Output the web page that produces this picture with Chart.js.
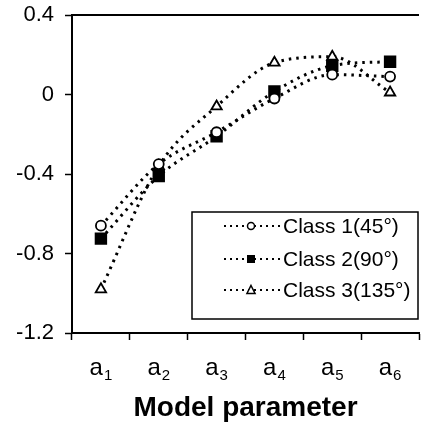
<!DOCTYPE html>
<html>
<head>
<meta charset="utf-8">
<script src="https://cdn.jsdelivr.net/npm/chart.js@4/dist/chart.umd.min.js"></script>
<style>
  html, body { margin: 0; padding: 0; background: #fff; }
  #wrap { width: 421px; height: 429px; }
</style>
</head>
<body>
<div id="wrap"><canvas id="myChart" width="421" height="429"></canvas></div>
<script>
// values
var categories = ['a1', 'a2', 'a3', 'a4', 'a5', 'a6'];
var class1 = [-0.66, -0.35, -0.19, -0.02, 0.10, 0.09];
var class2 = [-0.725, -0.41, -0.21, 0.015, 0.145, 0.165];
var class3 = [-0.98, -0.36, -0.06, 0.16, 0.19, 0.01];
var seriesNames = ['Class 1(45\u00b0)', 'Class 2(90\u00b0)', 'Class 3(135\u00b0)'];
var yTicks = [-1.2, -0.8, -0.4, 0, 0.4];
var xTitle = 'Model parameter';

var FONT = "'Liberation Sans', Arial, sans-serif";

function marker(ctx, style, x, y, r) {
  ctx.save();
  ctx.setLineDash([]);
  ctx.strokeStyle = '#000';
  ctx.lineWidth = 1.5;
  ctx.beginPath();
  if (style === 'circle') {
    ctx.arc(x, y, r, 0, Math.PI * 2);
    ctx.fillStyle = '#fff';
    ctx.fill();
    ctx.stroke();
  } else if (style === 'rect') {
    ctx.fillStyle = '#000';
    ctx.fillRect(x - r, y - r, r * 2, r * 2);
  } else {
    ctx.moveTo(x, y - r);
    ctx.lineTo(x + r * 0.9, y + r * 0.75);
    ctx.lineTo(x - r * 0.9, y + r * 0.75);
    ctx.closePath();
    ctx.fillStyle = '#fff';
    ctx.fill();
    ctx.stroke();
  }
  ctx.restore();
}

// legend box inside the plot + top frame line + subscript tick labels
var extras = {
  id: 'extras',
  afterDraw: function (chart) {
    var ctx = chart.ctx;
    var area = chart.chartArea;
    var xs = chart.scales.x;

    ctx.save();
    // top frame
    ctx.strokeStyle = '#000';
    ctx.lineWidth = 2;
    ctx.beginPath();
    ctx.moveTo(area.left, area.top);
    ctx.lineTo(area.right, area.top);
    ctx.stroke();

    // x labels a + subscript
    ctx.fillStyle = '#000';
    ctx.textBaseline = 'alphabetic';
    categories.forEach(function (c, i) {
      var px = xs.getPixelForValue(i);
      ctx.font = '24px ' + FONT;
      var w1 = ctx.measureText(c.charAt(0)).width;
      ctx.font = '15px ' + FONT;
      var w2 = ctx.measureText(c.slice(1)).width;
      var left = px - (w1 + w2 + 1) / 2;
      ctx.font = '24px ' + FONT;
      ctx.textAlign = 'left';
      ctx.fillText(c.charAt(0), left, area.bottom + 42);
      ctx.font = '15px ' + FONT;
      ctx.fillText(c.slice(1), left + w1 + 1, area.bottom + 47);
    });

    // legend
    var bx = 192, by = 212, bw = 226, bh = 107;
    ctx.lineWidth = 1.5;
    ctx.fillStyle = '#fff';
    ctx.fillRect(bx, by, bw, bh);
    ctx.strokeRect(bx, by, bw, bh);
    var rows = [226, 259, 290];
    var styles = ['circle', 'rect', 'triangle'];
    var sizes = [3.5, 4, 4.5];
    chart.data.datasets.forEach(function (ds, i) {
      var y = rows[i];
      ctx.save();
      ctx.strokeStyle = '#000';
      ctx.lineWidth = 2;
      ctx.setLineDash([2, 4]);
      ctx.beginPath();
      ctx.moveTo(224, y);
      ctx.lineTo(281, y);
      ctx.stroke();
      ctx.restore();
      marker(ctx, styles[i], 251, y, sizes[i]);
      ctx.fillStyle = '#000';
      ctx.font = '21px ' + FONT;
      ctx.textAlign = 'left';
      ctx.textBaseline = 'middle';
      ctx.fillText(ds.label, 283, y + 1);
    });
    ctx.restore();
  }
};

function makeSet(label, data, style, radius) {
  return {
    label: label,
    data: data,
    borderColor: '#000',
    backgroundColor: style === 'rect' ? '#000' : '#fff',
    borderWidth: 3,
    borderDash: [2.5, 5],
    cubicInterpolationMode: 'monotone',
    pointStyle: style,
    pointRadius: radius,
    pointBorderWidth: 1.8,
    pointBorderColor: '#000',
    pointBackgroundColor: style === 'rect' ? '#000' : '#fff'
  };
}

var ctx = document.getElementById('myChart').getContext('2d');
var chart = new Chart(ctx, {
  type: 'line',
  data: {
    labels: categories,
    datasets: [
      makeSet(seriesNames[0], class1, 'circle', 5),
      makeSet(seriesNames[1], class2, 'rect', 7.5),
      makeSet(seriesNames[2], class3, 'triangle', 6)
    ]
  },
  options: {
    responsive: false,
    animation: false,
    devicePixelRatio: 1,
    layout: { autoPadding: false, padding: { left: 0, top: 15, right: 2, bottom: 0 } },
    plugins: {
      legend: { display: false },
      tooltip: { enabled: false }
    },
    scales: {
      x: {
        offset: true,
        grid: {
          offset: true,
          drawOnChartArea: false,
          drawTicks: true,
          tickLength: 7,
          tickWidth: 1.5,
          tickColor: '#000'
        },
        border: { color: '#000', width: 2 },
        ticks: { display: false },
        title: {
          display: true,
          text: xTitle,
          color: '#000',
          font: { family: FONT, size: 28, weight: 'bold', lineHeight: 1.2 },
          padding: { top: 0, bottom: 4 }
        },
        afterFit: function (s) {
          s.height = 96;
          s.paddingLeft = 0;
          s.paddingRight = 0;
        }
      },
      y: {
        min: yTicks[0],
        max: yTicks[yTicks.length - 1],
        afterBuildTicks: function (s) {
          s.ticks = yTicks.map(function (v) { return { value: v }; });
        },
        grid: {
          drawOnChartArea: false,
          tickLength: 7,
          tickWidth: 1.5,
          tickColor: '#000'
        },
        border: { color: '#000', width: 2 },
        ticks: {
          color: '#000',
          padding: 11,
          font: { family: FONT, size: 22 },
          callback: function (v) { return String(Math.round(v * 10) / 10); }
        },
        afterFit: function (s) {
          s.width = 72;
          s.paddingTop = 0;
          s.paddingBottom = 0;
        }
      }
    }
  },
  plugins: [extras]
});
</script>
</body>
</html>
